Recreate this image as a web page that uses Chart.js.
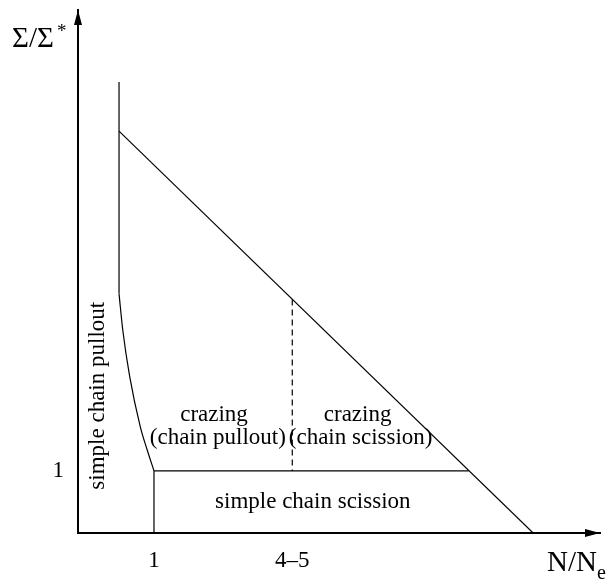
<!DOCTYPE html>
<html>
<head>
<meta charset="utf-8">
<script src="https://cdn.jsdelivr.net/npm/chart.js@4/dist/chart.umd.min.js"></script>
<style>
  html, body { margin: 0; padding: 0; background: #fff; }
  canvas { display: block; }
</style>
</head>
<body>
<canvas id="regimeMap" width="607" height="581"></canvas>
<script>
// axis ticks (schematic units, N/Ne and Sigma/Sigma*)
const xTickValues = [1, 2.82];
const xTickLabels = ['1', '4\u20135'];
const yTickValues = [1];
const yTickLabels = ['1'];

// boundaries of the regimes
const pulloutWall = [{ x: 0.54, y: 7.26 }, { x: 0.54, y: 3.85 }];
const pulloutCurve = [
    { x: 0.54, y: 3.85 }, { x: 0.59, y: 3.26 }, { x: 0.68, y: 2.52 },
    { x: 0.82, y: 1.71 }, { x: 0.91, y: 1.34 }, { x: 1.0, y: 1.0 }
];
const crazeLimit = [{ x: 0.54, y: 6.47 }, { x: 5.99, y: 0 }];
const stressOne = [{ x: 1, y: 1 }, { x: 5.14, y: 1 }];
const lengthOne = [{ x: 1, y: 1 }, { x: 1, y: 0 }];
const entangleSplit = [{ x: 2.82, y: 3.76 }, { x: 2.82, y: 1 }];

// region names, anchored in data units
const regionTexts = ['crazing', '(chain pullout)', 'crazing', '(chain scission)', 'simple chain scission'];
const regionX = [1.79, 1.84, 3.68, 3.72, 3.09];
const regionY = [1.80, 1.43, 1.80, 1.43, 0.40];
const sideText = 'simple chain pullout';
const sideX = 0.26;
const sideY = 2.21;

const serif = '"Liberation Serif", "Times New Roman", serif';

function line(data, dashed) {
    return {
        data: data,
        showLine: true,
        borderColor: '#000',
        borderWidth: 1.2,
        borderDash: dashed ? [6, 4] : [],
        pointRadius: 0,
        fill: false,
        tension: 0
    };
}

const curve = line(pulloutCurve);
curve.cubicInterpolationMode = 'monotone';

const decorations = {
    id: 'decorations',
    afterDraw(chart) {
        const ctx = chart.ctx;
        const area = chart.chartArea;
        const xs = chart.scales.x;
        const ys = chart.scales.y;
        ctx.save();
        ctx.fillStyle = '#000';

        // arrow heads
        ctx.beginPath();
        ctx.moveTo(area.left, area.top);
        ctx.lineTo(area.left - 4, area.top + 15);
        ctx.lineTo(area.left + 4, area.top + 15);
        ctx.closePath();
        ctx.fill();
        ctx.beginPath();
        ctx.moveTo(area.right, area.bottom);
        ctx.lineTo(area.right - 15, area.bottom - 4);
        ctx.lineTo(area.right - 15, area.bottom + 4);
        ctx.closePath();
        ctx.fill();

        // axis titles
        ctx.textAlign = 'left';
        ctx.textBaseline = 'alphabetic';
        ctx.font = '29px ' + serif;
        ctx.fillText('\u03A3/\u03A3', area.left - 66, area.top + 37);
        ctx.font = '19px ' + serif;
        ctx.fillText('*', area.left - 21, area.top + 27);
        ctx.font = '29px ' + serif;
        ctx.fillText('N/N', area.right - 53, area.bottom + 38);
        ctx.font = '20px ' + serif;
        ctx.fillText('e', area.right - 3, area.bottom + 46);

        // region labels
        ctx.font = '23px ' + serif;
        ctx.textAlign = 'center';
        regionTexts.forEach((t, i) => {
            ctx.fillText(t, xs.getPixelForValue(regionX[i]), ys.getPixelForValue(regionY[i]));
        });
        ctx.translate(xs.getPixelForValue(sideX), ys.getPixelForValue(sideY));
        ctx.rotate(-Math.PI / 2);
        ctx.textBaseline = 'middle';
        ctx.fillText(sideText, 0, 0);
        ctx.restore();
    }
};

new Chart(document.getElementById('regimeMap'), {
    type: 'scatter',
    data: {
        datasets: [
            line(pulloutWall),
            curve,
            line(crazeLimit),
            line(stressOne),
            line(lengthOne),
            line(entangleSplit, true)
        ]
    },
    options: {
        responsive: false,
        animation: false,
        layout: { padding: { top: 10, right: 7, left: 0, bottom: 0 } },
        scales: {
            x: {
                type: 'linear',
                min: 0,
                max: 6.87,
                afterFit: (scale) => {
                    scale.height = 48;
                    scale.paddingLeft = 0;
                    scale.paddingRight = 0;
                },
                afterBuildTicks: (scale) => { scale.ticks = xTickValues.map(v => ({ value: v })); },
                grid: { display: false, drawTicks: false },
                border: { display: true, color: '#000', width: 2 },
                ticks: {
                    color: '#000',
                    padding: 14,
                    maxRotation: 0,
                    font: { family: serif, size: 23 },
                    callback: (v, i) => xTickLabels[i]
                }
            },
            y: {
                type: 'linear',
                min: 0,
                max: 8.42,
                afterFit: (scale) => {
                    scale.width = 78;
                    scale.paddingTop = 0;
                    scale.paddingBottom = 0;
                },
                afterBuildTicks: (scale) => { scale.ticks = yTickValues.map(v => ({ value: v })); },
                grid: { display: false, drawTicks: false },
                border: { display: true, color: '#000', width: 2 },
                ticks: {
                    color: '#000',
                    padding: 14,
                    font: { family: serif, size: 23 },
                    callback: (v, i) => yTickLabels[i]
                }
            }
        },
        plugins: {
            legend: { display: false },
            tooltip: { enabled: false }
        }
    },
    plugins: [decorations]
});
</script>
</body>
</html>
